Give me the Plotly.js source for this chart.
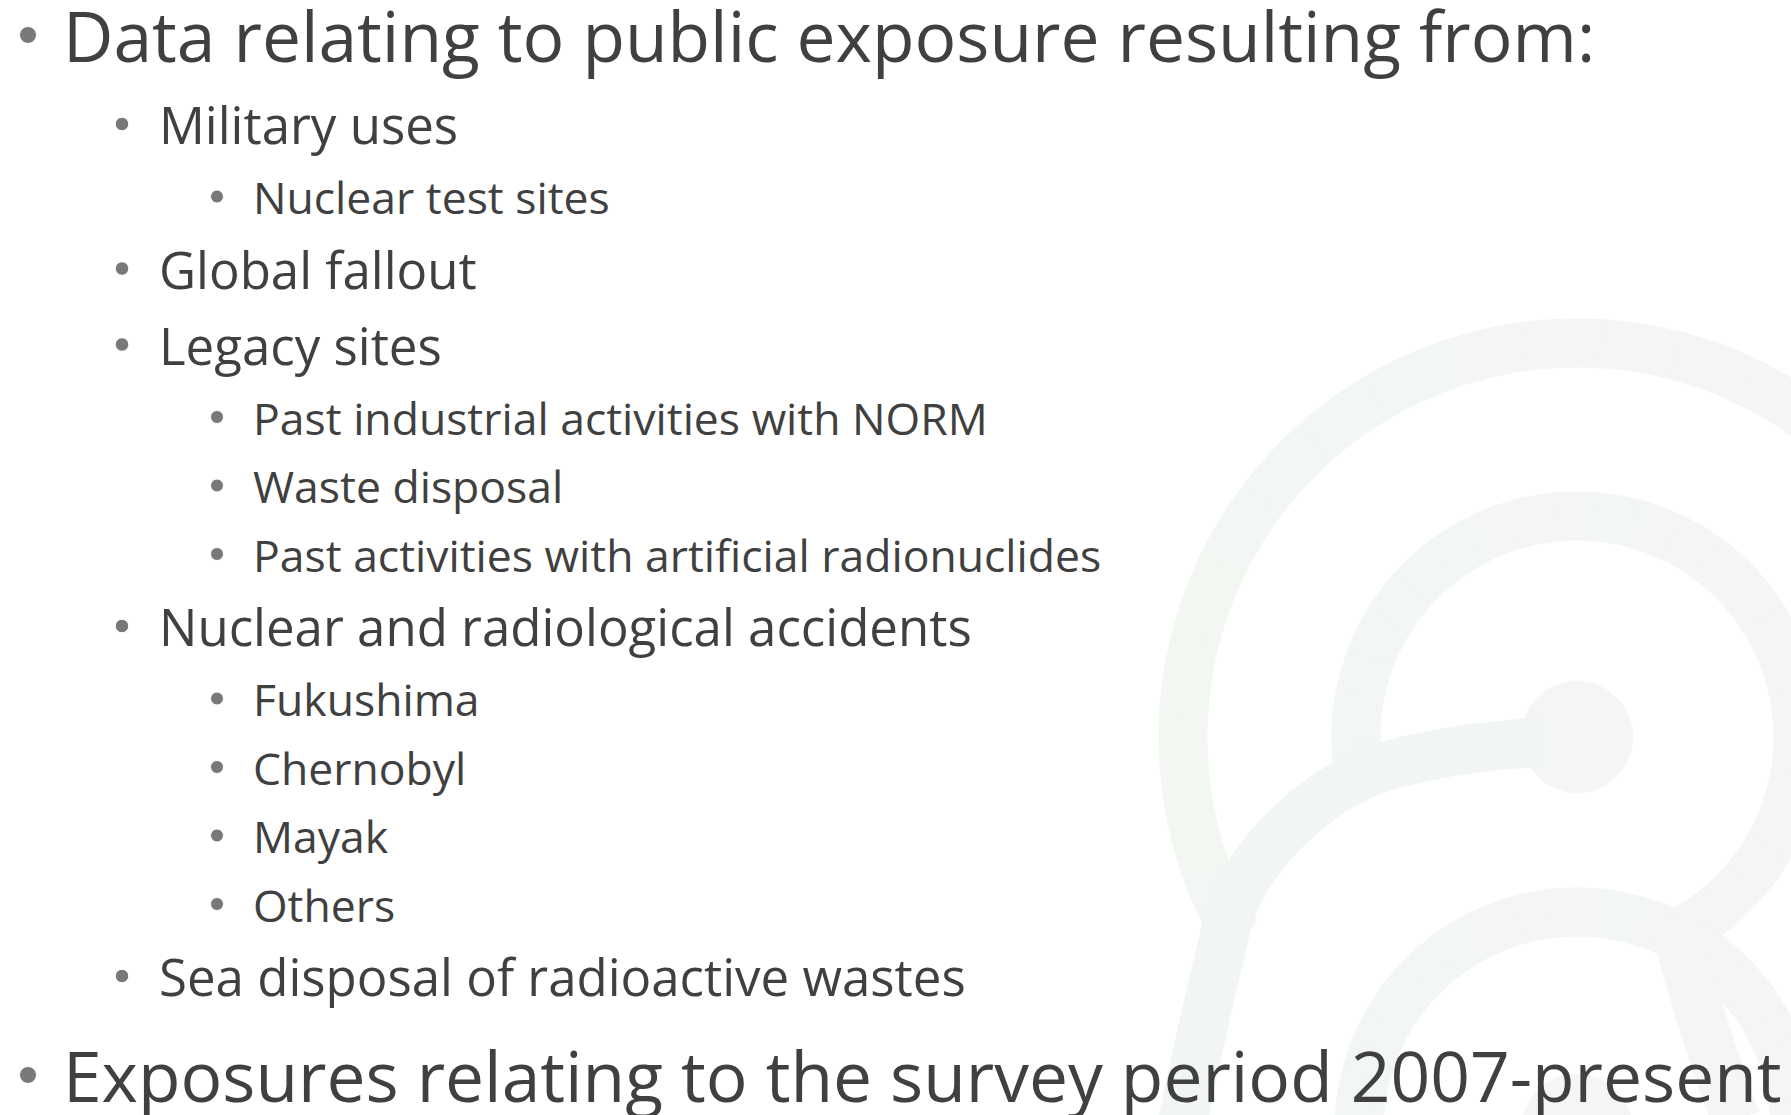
<!DOCTYPE html>
<html><head><meta charset="utf-8">
<script src="https://cdn.plot.ly/plotly-3.0.1.min.js"></script>
<style>html,body{margin:0;padding:0;background:#fff;overflow:hidden}#chart{width:1791px;height:1115px}</style>
</head><body><div id="chart"></div>
<script>
// ---- content ----
const bulletTexts = [
  "Data relating to public exposure resulting from:",
  "Military uses",
  "Nuclear test sites",
  "Global fallout",
  "Legacy sites",
  "Past industrial activities with NORM",
  "Waste disposal",
  "Past activities with artificial radionuclides",
  "Nuclear and radiological accidents",
  "Fukushima",
  "Chernobyl",
  "Mayak",
  "Others",
  "Sea disposal of radioactive wastes",
  "Exposures relating to the survey period 2007-present"
];
const bulletLevels = [0, 1, 2, 1, 1, 2, 2, 2, 1, 2, 2, 2, 2, 1, 0];

// ---- style ----
const W = 1791, H = 1115;
const textColor = "#404040";
const fontFamily = "'Open Sans', 'Noto Sans', sans-serif";
const levelFont = [69.5, 51, 44.5];
const levelBulletSize = [17, 13.5, 13];
const levelTextX = [61, 157, 251];
const levelBulletX = [28, 122, 217];
const firstY = 35;
const gap = { "0-1": 89, "1-2": 72.5, "2-1": 72, "1-1": 76, "2-2": 68.5, "1-0": 99, "2-0": 99, "0-0": 99, "0-2": 89 };

const annotations = [];
const bx = [], by = [], bs = [];
let y = firstY;
bulletTexts.forEach((t, i) => {
  const lv = bulletLevels[i];
  if (i > 0) y += gap[bulletLevels[i - 1] + "-" + lv];
  bx.push(levelBulletX[lv]); by.push(y); bs.push(levelBulletSize[lv]);
  annotations.push({
    x: levelTextX[lv], y: y, xref: "x", yref: "y", xanchor: "left", yanchor: "middle",
    text: t, showarrow: false, font: { family: fontFamily, size: levelFont[lv], color: textColor }
  });
});

// ---- background logo (decoration) ----
const cLeft = [242, 247, 242], cRight = [243, 245, 247];
function colAt(x) {
  let f = (x - 1150) / (W - 1150); f = Math.max(0, Math.min(1, f));
  const c = cLeft.map((v, k) => Math.round(v + (cRight[k] - v) * f));
  return "rgb(" + c.join(",") + ")";
}
const shapes = [];
function ring(cx, cy, r, a0, a1, w) {
  const nseg = 24;
  for (let s = 0; s < nseg; s++) {
    const s0 = a0 + (a1 - a0) * s / nseg - 0.4;
    const s1 = a0 + (a1 - a0) * (s + 1) / nseg + 0.4;
    const st0 = Math.max(s0, a0), st1 = Math.min(s1, a1);
    let d = "", sx = 0, n = 0;
    const steps = 8;
    for (let k = 0; k <= steps; k++) {
      const a = (st0 + (st1 - st0) * k / steps) * Math.PI / 180;
      const px = cx + r * Math.cos(a), py = cy + r * Math.sin(a);
      d += (k === 0 ? "M" : " L") + px.toFixed(2) + " " + py.toFixed(2);
      sx += px; n++;
    }
    shapes.push({ type: "path", path: d, xref: "x", yref: "y", layer: "below",
      line: { color: colAt(sx / n), width: w } });
  }
}
const cx = 1577, cy = 737, ringW = 49;
ring(cx, cy, 394, 150, 420, ringW);      // outer ring
ring(cx, cy, 221, 170, 422, ringW);      // middle ring
ring(cx, 1130, 218, 180, 360, ringW);    // lower ring
shapes.push({ type: "circle", xref: "x", yref: "y", layer: "below", x0: cx - 56, x1: cx + 56, y0: cy - 56, y1: cy + 56,
  fillcolor: colAt(cx), line: { width: 0 } });
shapes.push({ type: "circle", xref: "x", yref: "y", layer: "below", x0: cx - 56, x1: cx + 56, y0: 1130 - 56, y1: 1130 + 56,
  fillcolor: colAt(cx), line: { width: 0 } });

const traces = [
  { x: [1540, 1450, 1360, 1290, 1240, 1214, 1198, 1183], y: [742, 752, 776, 825, 890, 980, 1050, 1120],
    mode: "lines", line: { shape: "spline", width: ringW, color: colAt(1330) }, hoverinfo: "skip" },
  { x: [1672, 1690, 1710, 1736], y: [915, 980, 1045, 1120],
    mode: "lines", line: { shape: "spline", width: ringW, color: colAt(1700) }, hoverinfo: "skip" },
  { x: bx, y: by, mode: "markers", marker: { size: bs, color: textColor, symbol: "circle" }, hoverinfo: "skip" }
];

const layout = {
  width: W, height: H, margin: { l: 0, r: 0, t: 0, b: 0 },
  paper_bgcolor: "#ffffff", plot_bgcolor: "#ffffff", showlegend: false,
  xaxis: { range: [0, W], visible: false, fixedrange: true },
  yaxis: { range: [H, 0], visible: false, fixedrange: true },
  shapes: shapes, annotations: annotations
};
Plotly.newPlot("chart", traces, layout, { displayModeBar: false, staticPlot: true });
</script></body></html>
